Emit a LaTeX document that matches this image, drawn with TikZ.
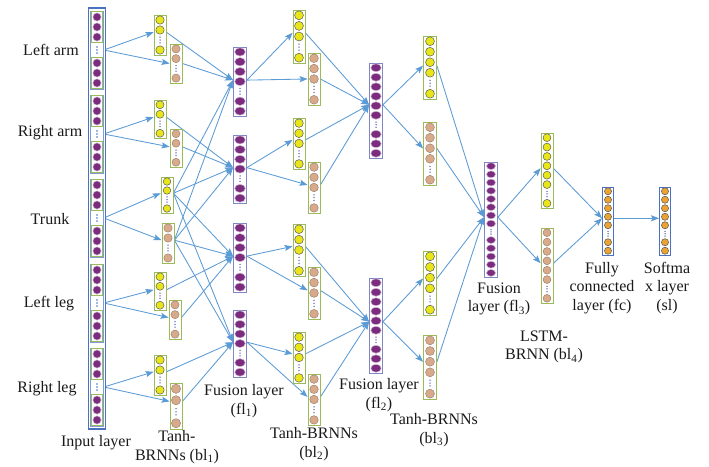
\documentclass[tikz,border=0pt]{standalone}
\usepackage{fontspec}
\setmainfont{Liberation Serif}
\usetikzlibrary{arrows.meta,backgrounds,calc}

\definecolor{linkblue}{HTML}{5B9BD5}
\definecolor{boxgreen}{HTML}{9BBB59}
\definecolor{boxblue}{HTML}{8088C4}
\definecolor{inblue}{HTML}{4A72C0}
\definecolor{cyellow}{HTML}{E8E619}
\definecolor{ctan}{HTML}{D8AA8C}
\definecolor{cpurple}{HTML}{7B2C7E}
\definecolor{corange}{HTML}{EBA331}
\definecolor{dotblue}{HTML}{5A5AB0}
\definecolor{txt}{HTML}{1A1A1A}

\def\nnX{1}
% one column of neurons: name, x, top, bottom, circles above the dots,
% circles below the dots, circle style, box style, port (fraction of height)
\newcommand\nncol[9]{%
  \pgfmathsetmacro\nnH{#4-#3}%
  \pgfmathsetmacro\nnS{\nnH/(#5+#6+1)}%
  \pgfmathsetmacro\nnR{min(0.42*\nnS,4.6)}%
  \node[#8, minimum height=\nnH pt] (#1) at (#2,{(#3+#4)/2}) {};
  \foreach \k in {1,...,#5}
    \draw[#7] (#2,{#3+(\k-0.5)*\nnS}) ellipse[x radius={min(\nnX*\nnR,5.3)*1pt}, y radius={\nnR*1pt}];
  \foreach \k in {1,...,#6}
    \draw[#7] (#2,{#3+(#5+1+\k-0.5)*\nnS}) ellipse[x radius={min(\nnX*\nnR,5.3)*1pt}, y radius={\nnR*1pt}];
  \foreach \dd in {-0.28,0,0.28}
    \fill[dotblue] (#2,{#3+(#5+0.5+\dd)*\nnS}) circle[radius=0.75pt];
  \coordinate (#1-p) at (#2,{#3+#9*\nnH});
}

% one body-part block of the input layer: name, centre y
\newcommand\inpart[2]{%
  \node[secbox, minimum height=78pt] (#1) at (97,#2) {};
  \node[subbox, minimum height=31pt] (#1-a) at (97,{#2-23}) {};
  \node[subbox, minimum height=31pt] (#1-b) at (97,{#2+23}) {};
  \foreach \o in {-33,-23,-13,13,23,33}
    \draw[incirc] (97,{#2+\o}) circle[radius=4.1pt];
  \foreach \dd in {-3,0,3}
    \fill[inblue] (97,{#2+\dd}) circle[radius=0.8pt];
}

\begin{document}
\begin{tikzpicture}[x=1pt,y=-1pt,
  ybox/.style={draw=boxgreen, line width=0.8pt, fill=white, inner sep=0pt, minimum width=12pt},
  wbox/.style={draw=boxgreen, line width=0.8pt, fill=white, inner sep=0pt, minimum width=13pt},
  pbox/.style={draw=boxblue, line width=0.8pt, fill=white, inner sep=0pt, minimum width=13pt},
  obox/.style={draw=inblue, line width=1pt, fill=white, inner sep=0pt, minimum width=11pt},
  inbox/.style={draw=inblue, line width=1.5pt, fill=white, inner sep=0pt, minimum width=17pt},
  secbox/.style={draw=inblue!70, line width=0.6pt, fill=white, inner sep=0pt, minimum width=13pt},
  subbox/.style={draw=boxgreen, line width=0.6pt, fill=white, inner sep=0pt, minimum width=11pt},
  ycirc/.style={fill=cyellow, draw=black!65, line width=0.5pt},
  tcirc/.style={fill=ctan, draw=ctan!70!black, line width=0.4pt},
  pcirc/.style={fill=cpurple, draw=cpurple!35, line width=0.5pt, /utils/exec={\def\nnX{1.3}}},
  incirc/.style={fill=cpurple, draw=cpurple!35, line width=0.5pt},
  ocirc/.style={fill=corange, draw=black!65, line width=0.5pt},
  link/.style={draw=linkblue, line width=0.85pt, -{Stealth[length=8pt,width=6pt,inset=1.5pt]}},
  lab/.style={font=\fontsize{16}{18.5}\selectfont, text=txt, align=center, inner sep=0pt}
]
\begin{scope}[on background layer]
  \fill[white] (0,0) rectangle (709,466);
\end{scope}
\useasboundingbox (0,0) rectangle (709,466);

% input layer
\node[inbox, minimum height=421pt] (inp) at (97,218.5) {};
\inpart{s1}{50}
\inpart{s2}{134}
\inpart{s3}{218}
\inpart{s4}{303}
\inpart{s5}{387}

% Tanh-BRNNs (bl1)
\nncol{y1}{160}{15}{55}{2}{1}{ycirc}{ybox}{0.43}
\nncol{t1}{176}{44}{83}{2}{1}{tcirc}{ybox}{0.5}
\nncol{y2}{160}{100}{138}{2}{1}{ycirc}{ybox}{0.45}
\nncol{t2}{176}{129}{167}{2}{1}{tcirc}{ybox}{0.47}
\nncol{y3}{167}{177}{213}{2}{1}{ycirc}{ybox}{0.45}
\nncol{t3}{168}{223}{263}{2}{1}{tcirc}{ybox}{0.43}
\nncol{y4}{160}{272}{310}{2}{1}{ycirc}{ybox}{0.47}
\nncol{t4}{175}{300}{339}{2}{1}{tcirc}{ybox}{0.45}
\nncol{y5}{160}{355}{395}{2}{1}{ycirc}{ybox}{0.42}
\nncol{t5}{176}{383}{429}{2}{1}{tcirc}{ybox}{0.4}

% fusion layer (fl1)
\nncol{fla}{240}{47}{116}{4}{2}{pcirc}{pbox}{0.48}
\nncol{flb}{240}{135}{203}{4}{2}{pcirc}{pbox}{0.48}
\nncol{flc}{240}{223}{292}{4}{2}{pcirc}{pbox}{0.48}
\nncol{fld}{240}{310}{377}{4}{2}{pcirc}{pbox}{0.48}

% Tanh-BRNNs (bl2)
\nncol{by1}{299}{10}{63}{3}{1}{ycirc}{ybox}{0.43}
\nncol{bt1}{314}{53}{105}{3}{1}{tcirc}{ybox}{0.5}
\nncol{by2}{299}{118}{169}{3}{1}{ycirc}{ybox}{0.43}
\nncol{bt2}{314}{162}{213}{3}{1}{tcirc}{ybox}{0.45}
\nncol{by3}{299}{224}{276}{3}{1}{ycirc}{ybox}{0.43}
\nncol{bt3}{314}{267}{319}{3}{1}{tcirc}{ybox}{0.45}
\nncol{by4}{299}{332}{383}{3}{1}{ycirc}{ybox}{0.43}
\nncol{bt4}{314}{374}{425}{3}{1}{tcirc}{ybox}{0.45}

% fusion layer (fl2)
\nncol{f2a}{376}{63}{158}{6}{3}{pcirc}{pbox}{0.44}
\nncol{f2b}{376}{278}{373}{6}{3}{pcirc}{pbox}{0.46}

% Tanh-BRNNs (bl3)
\nncol{cy1}{430}{36}{99}{4}{1}{ycirc}{wbox}{0.47}
\nncol{ct1}{430}{122}{185}{4}{1}{tcirc}{wbox}{0.42}
\nncol{cy2}{430}{251}{315}{4}{1}{ycirc}{wbox}{0.43}
\nncol{ct2}{430}{335}{399}{4}{1}{tcirc}{wbox}{0.42}

% fusion layer (fl3)
\nncol{f3}{491}{162}{277}{8}{5}{pcirc}{pbox}{0.48}

% LSTM-BRNN (bl4)
\nncol{ly}{547}{133}{208}{6}{1}{ycirc}{ybox}{0.47}
\nncol{lt}{547}{228}{303}{6}{1}{tcirc}{ybox}{0.47}

% fully connected and softmax layers
\nncol{fc}{608}{187}{255}{5}{2}{ocirc}{obox}{0.46}
\nncol{sl}{665}{187}{255}{5}{2}{ocirc}{obox}{0.46}

% connections
\begin{scope}[on background layer]
  \foreach \s/\a/\b in {s1/y1/t1, s2/y2/t2, s3/y3/t3, s4/y4/t4, s5/y5/t5} {
    \draw[link] (\s.east) -- (\a.west |- \a-p);
    \draw[link] (\s.east) -- (\b.west |- \b-p);
  }
  \foreach \a/\b/\f in {y1/t1/fla, y2/t2/flb, y4/t4/flc, y5/t5/fld} {
    \draw[link] (\a.east |- \a-p) -- (\f.west |- \f-p);
    \draw[link] (\b.east |- \b-p) -- (\f.west |- \f-p);
    \draw[link] (y3.east |- y3-p) -- (\f.west |- \f-p);
    \draw[link] (t3.east |- t3-p) -- (\f.west |- \f-p);
  }
  \foreach \f/\a/\b in {fla/by1/bt1, flb/by2/bt2, flc/by3/bt3, fld/by4/bt4} {
    \draw[link] (\f.east |- \f-p) -- (\a.west |- \a-p);
    \draw[link] (\f.east |- \f-p) -- (\b.west |- \b-p);
  }
  \foreach \a/\f in {by1/f2a, bt1/f2a, by2/f2a, bt2/f2a, by3/f2b, bt3/f2b, by4/f2b, bt4/f2b}
    \draw[link] (\a.east |- \a-p) -- (\f.west |- \f-p);
  \foreach \f/\a in {f2a/cy1, f2a/ct1, f2b/cy2, f2b/ct2}
    \draw[link] (\f.east |- \f-p) -- (\a.west |- \a-p);
  \foreach \a in {cy1, ct1, cy2, ct2}
    \draw[link] (\a.east |- \a-p) -- (f3.west |- f3-p);
  \foreach \a in {ly, lt} {
    \draw[link] (f3.east |- f3-p) -- (\a.west |- \a-p);
    \draw[link] (\a.east |- \a-p) -- (fc.west |- fc-p);
  }
  \draw[link] (fc.east |- fc-p) -- (sl.west |- sl-p);
\end{scope}

% labels
\node[lab] (tla) at (51,50) {Left arm};
\node[lab] (tra) at (50,133) {Right arm};
\node[lab] (ttr) at (50,219) {Trunk};
\node[lab] (tll) at (49,304) {Left leg};
\node[lab] (trl) at (47,389) {Right leg};
\node[lab] (tin) at (96,443) {Input layer};
\node[lab] (tb1) at (177,447) {Tanh-\\BRNNs (bl\textsubscript{1})};
\node[lab] (tf1) at (244,401) {Fusion layer\\(fl\textsubscript{1})};
\node[lab] (tb2) at (314,444) {Tanh-BRNNs\\(bl\textsubscript{2})};
\node[lab] (tf2) at (379,395) {Fusion layer\\(fl\textsubscript{2})};
\node[lab] (tb3) at (434,430) {Tanh-BRNNs\\(bl\textsubscript{3})};
\node[lab] (tf3) at (499,299) {Fusion\\layer (fl\textsubscript{3})};
\node[lab] (tb4) at (544,347) {LSTM-\\BRNN (bl\textsubscript{4})};
\node[lab] (tfc) at (602,288) {Fully\\connected\\layer (fc)};
\node[lab] (tsl) at (667,288) {Softma\\x layer\\(sl)};
\end{tikzpicture}
\end{document}
